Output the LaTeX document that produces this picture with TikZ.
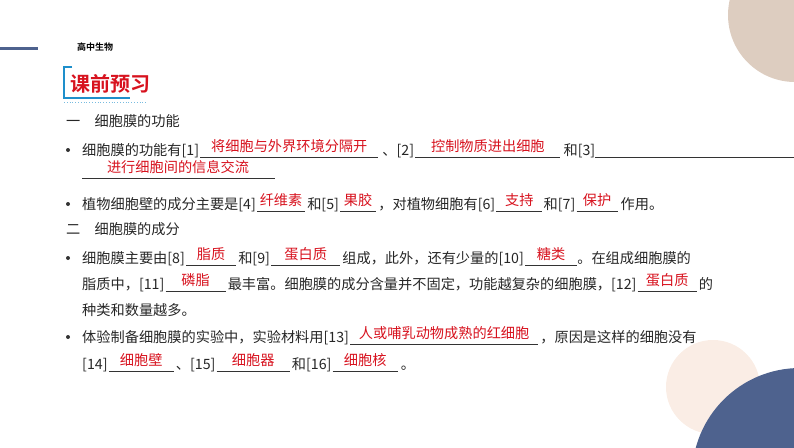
\documentclass[tikz,border=0pt]{standalone}
\usepackage{fontspec}
\setmainfont{Noto Sans CJK SC}
\newfontfamily\cjkb{Noto Sans CJK SC Bold}
\definecolor{navy}{HTML}{4E628E}
\definecolor{tan}{HTML}{DDCDC0}
\definecolor{peach}{HTML}{FAEDE5}
\definecolor{ansred}{HTML}{D7121E}
\definecolor{tblue}{HTML}{1E8FCB}
\tikzset{
 txt/.style={anchor=base west,inner sep=0pt,font=\fontsize{14.2}{15}\selectfont,text=black!85},
 ans/.style={anchor=base,inner sep=0pt,font=\fontsize{14.2}{15}\selectfont,text=ansred},
 ul/.style={line width=0.8pt,black!80},
 bul/.style={circle,fill=black!80,inner sep=0pt,minimum size=4pt}
}
% #1 previous node, #2 width, #3 answer, #4 name of end coordinate
\newcommand{\blankafter}[4]{%
 \coordinate (#4s) at ([xshift=1pt]#1.base east);
 \coordinate (#4) at ([xshift=#2pt+1pt]#1.base east);
 \draw[ul] ([yshift=-2pt]#4s) -- ([yshift=-2pt]#4);
 \node[ans] at ($(#4s)!0.5!(#4)+(0,-4)$) {#3};}
\usetikzlibrary{calc}
\begin{document}
\begin{tikzpicture}[x=1pt,y=-1pt]
\useasboundingbox (0,0) rectangle (794,447);
\fill[tan] (795,15) circle (67);
\fill[peach] (713,387) circle (47);
\fill[navy] (800,476) circle (108);
\draw[navy,line width=3pt] (0,48) -- (38,48);
\node[txt,font=\cjkb\fontsize{9}{9}\selectfont,text=black] at (77,50) {高中生物};
\draw[tblue,line width=2pt] (72,67) -- (64,67) -- (64,98) -- (130,98);
\draw[tblue!60,dotted,line width=0.8pt] (64,102) -- (146,102);
\node[txt,font=\cjkb\fontsize{20}{20}\selectfont,text=ansred] at (70,91) {课前预习};
% section 1
\node[txt] at (66,126) {一\quad 细胞膜的功能};
\node[bul] at (68,150) {};
\node[txt] (a1) at (82,155) {细胞膜的功能有[1]};
\blankafter{a1}{178}{将细胞与外界环境分隔开}{b1}
\node[txt] (a2) at ([xshift=4pt]b1) {、[2]};
\blankafter{a2}{145}{控制物质进出细胞}{b2}
\node[txt] (a3) at ([xshift=3pt]b2) {和[3]};
\draw[ul] ([yshift=-2pt]a3.base east) -- (794,157);
\draw[ul] (82,178) -- (275,178);
\node[ans] at (178,172) {进行细胞间的信息交流};
\node[bul] at (68,204) {};
\node[txt] (c1) at (82,209) {植物细胞壁的成分主要是[4]};
\blankafter{c1}{48}{纤维素}{d1}
\node[txt] (c2) at ([xshift=2pt]d1) {和[5]};
\blankafter{c2}{36}{果胶}{d2}
\node[txt] (c3) at ([xshift=2pt]d2) {，对植物细胞有[6]};
\blankafter{c3}{46}{支持}{d3}
\node[txt] (c4) at ([xshift=1pt]d3) {和[7]};
\blankafter{c4}{41}{保护}{d4}
\node[txt] at ([xshift=3pt]d4) {作用。};
% section 2
\node[txt] at (66,234) {二\quad 细胞膜的成分};
\node[bul] at (68,258) {};
\node[txt] (e1) at (82,263) {细胞膜主要由[8]};
\blankafter{e1}{50}{脂质}{f1}
\node[txt] (e2) at ([xshift=2pt]f1) {和[9]};
\blankafter{e2}{69}{蛋白质}{f2}
\node[txt] (e3) at ([xshift=2pt]f2) {组成，此外，还有少量的[10]};
\blankafter{e3}{52}{糖类}{f3}
\node[txt] at (f3) {。在组成细胞膜的};
\node[txt] (g1) at (82,289) {脂质中，[11]};
\blankafter{g1}{60}{磷脂}{h1}
\node[txt] (g2) at ([xshift=2pt]h1) {最丰富。细胞膜的成分含量并不固定，功能越复杂的细胞膜，[12]};
\blankafter{g2}{59}{蛋白质}{h2}
\node[txt] at ([xshift=2pt]h2) {的};
\node[txt] at (82,315) {种类和数量越多。};
\node[bul] at (68,337) {};
\node[txt] (i1) at (82,342) {体验制备细胞膜的实验中，实验材料用[13]};
\blankafter{i1}{188}{人或哺乳动物成熟的红细胞}{j1}
\node[txt] at ([xshift=2pt]j1) {，原因是这样的细胞没有};
\node[txt] (k1) at (82,369) {[14]};
\blankafter{k1}{65}{细胞壁}{l1}
\node[txt] (k2) at ([xshift=2pt]l1) {、[15]};
\blankafter{k2}{73}{细胞器}{l2}
\node[txt] (k3) at ([xshift=2pt]l2) {和[16]};
\blankafter{k3}{65}{细胞核}{l3}
\node[txt] at ([xshift=3pt]l3) {。};
\end{tikzpicture}
\end{document}
